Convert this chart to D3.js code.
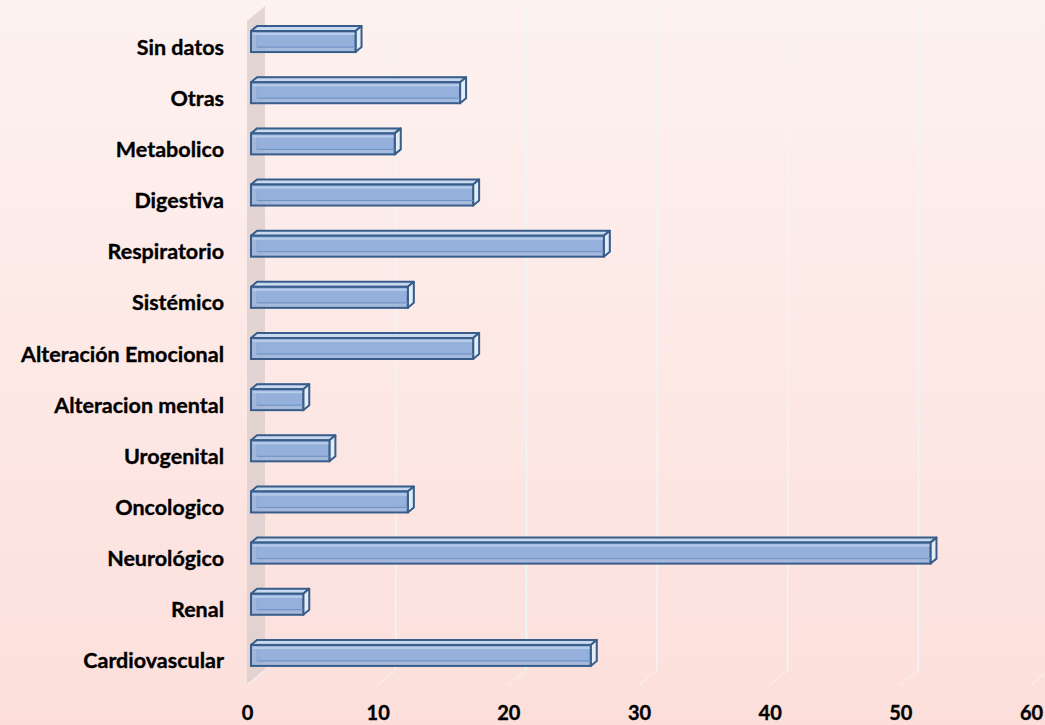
<!DOCTYPE html>
<html>
<head>
<meta charset="utf-8">
<script src="https://cdn.jsdelivr.net/npm/d3@7"></script>
<style>
body { margin: 0; }
svg { display: block; }
</style>
</head>
<body>
<svg id="chart" width="1045" height="725"></svg>
<script>
// categories from top to bottom
const categories = ["Sin datos", "Otras", "Metabolico", "Digestiva", "Respiratorio", "Sistémico",
    "Alteración Emocional", "Alteracion mental", "Urogenital", "Oncologico", "Neurológico", "Renal", "Cardiovascular"];
const values = [8, 16, 11, 17, 27, 12, 17, 4, 6, 12, 52, 4, 26];
const xTicks = [0, 10, 20, 30, 40, 50, 60];

const width = 1045, height = 725;
const svg = d3.select("#chart");

const defs = svg.append("defs");
const bg = defs.append("linearGradient").attr("id", "bg").attr("x1", 0).attr("y1", 0).attr("x2", 0).attr("y2", 1);
bg.append("stop").attr("offset", "0%").attr("stop-color", "#fdf2f0");
bg.append("stop").attr("offset", "100%").attr("stop-color", "#fcdfdb");

svg.append("rect").attr("width", width).attr("height", height).attr("fill", "url(#bg)");

var x = d3.scaleLinear().domain([0, 60]).range([251, 1035]);
var y = d3.scaleBand().domain(categories).range([16, 681]).paddingInner(0);

// 3d offsets of the walls
const backDx = 14, frontDx = -4, floorFront = 685, floorBack = 670, wallTop = 6;

// side wall
svg.append("path")
    .attr("d", `M${x(0)+frontDx},${wallTop+15} L${x(0)+backDx},${wallTop} L${x(0)+backDx},${floorBack} L${x(0)+frontDx},${floorFront} Z`)
    .attr("fill", "#d9cccb")
    .attr("opacity", 0.75);

// gridlines
const grid = svg.append("g");
xTicks.filter(d => d > 0).forEach(function(d) {
    grid.append("line")
        .attr("x1", x(d)+backDx).attr("x2", x(d)+backDx)
        .attr("y1", wallTop).attr("y2", floorBack)
        .attr("stroke", "#eef6f6").attr("stroke-width", 1.5);
    grid.append("line")
        .attr("x1", x(d)+backDx).attr("x2", x(d)+frontDx)
        .attr("y1", floorBack).attr("y2", floorFront)
        .attr("stroke", "#f4f4f4").attr("stroke-width", 1.2)
        .attr("stroke-dasharray", "2,1");
});
grid.append("line")
    .attr("x1", x(0)+backDx).attr("x2", x(0)+frontDx)
    .attr("y1", floorBack).attr("y2", floorFront)
    .attr("stroke", "#f4f4f4").attr("stroke-width", 1.2);

// bars (3d boxes)
const bh = 21, dx = 6, dy = -5;
const bars = svg.append("g")
    .selectAll("g")
    .data(categories)
    .enter()
    .append("g");

bars.each(function(c, i) {
    var g = d3.select(this);
    var x0 = x(0), x1 = x(values[i]);
    var yt = y(c) + y.bandwidth()/2 - bh/2, yb = yt + bh;
    // back edges (seen through)
    g.append("rect")
        .attr("x", x0+dx).attr("y", yt+dy).attr("width", x1-x0).attr("height", bh)
        .attr("fill", "#8eaedb").attr("stroke", "#4a72a8").attr("stroke-width", 1);
    // top face
    g.append("path")
        .attr("d", `M${x0},${yt} L${x0+dx},${yt+dy} L${x1+dx},${yt+dy} L${x1},${yt} Z`)
        .attr("fill", "#c9d9ee").attr("stroke", "#385d8a").attr("stroke-width", 2).attr("stroke-linejoin", "round");
    // end face
    g.append("path")
        .attr("d", `M${x1},${yt} L${x1+dx},${yt+dy} L${x1+dx},${yb+dy} L${x1},${yb} Z`)
        .attr("fill", "#e4ecf6").attr("stroke", "#385d8a").attr("stroke-width", 2).attr("stroke-linejoin", "round");
    // front face
    g.append("rect")
        .attr("x", x0).attr("y", yt).attr("width", x1-x0).attr("height", bh)
        .attr("fill", "#96b2db").attr("fill-opacity", 0.85)
        .attr("stroke", "#385d8a").attr("stroke-width", 2);
    // highlight under the top edge
    g.append("line")
        .attr("x1", x0+2).attr("x2", x1-1).attr("y1", yt+3).attr("y2", yt+3)
        .attr("stroke", "#b9cdea").attr("stroke-width", 2);
    // inner lines showing depth
    g.append("line")
        .attr("x1", x0+dx).attr("x2", x1).attr("y1", yt+dy+bh).attr("y2", yt+dy+bh)
        .attr("stroke", "#6f93c6").attr("stroke-width", 1);
});

// category labels
svg.append("g")
    .selectAll("text")
    .data(categories)
    .enter()
    .append("text")
        .attr("x", 224)
        .attr("y", function(d) { return y(d) + y.bandwidth()/2 + 13; })
        .attr("text-anchor", "end")
        .style("font-family", "Lato, 'Open Sans', sans-serif")
        .style("font-weight", "bold")
        .style("font-size", "21.5px")
        .attr("fill", "#000")
        .attr("stroke", "#000")
        .attr("stroke-width", 0.35)
        .text(function(d) { return d; });

// value axis labels
svg.append("g")
    .selectAll("text")
    .data(xTicks)
    .enter()
    .append("text")
        .attr("x", function(d) { return x(d) - 3.5; })
        .attr("y", 720)
        .attr("text-anchor", "middle")
        .style("font-family", "Lato, 'Open Sans', sans-serif")
        .style("font-weight", "bold")
        .style("font-size", "20px")
        .attr("fill", "#000")
        .attr("stroke", "#000")
        .attr("stroke-width", 0.35)
        .text(function(d) { return d; });
</script>
</body>
</html>
